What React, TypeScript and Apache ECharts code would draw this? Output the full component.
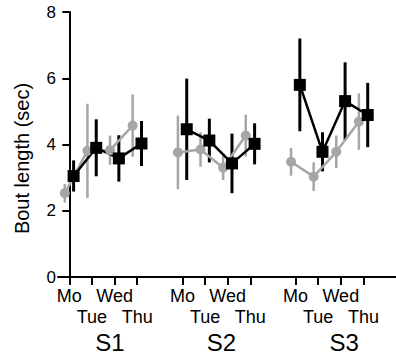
import React, { useEffect, useRef } from "react";
import * as echarts from "echarts";

const days = ["Mo", "Tue", "Wed", "Thu"];
const sessions = ["S1", "S2", "S3"];
const yTicks = [0, 2, 4, 6, 8];

// gray circles
const grayMean = [
  [2.53, 3.81, 3.83, 4.57],
  [3.76, 3.85, 3.3, 4.27],
  [3.48, 3.03, 3.78, 4.69],
];
const grayErr = [
  [0.28, 1.42, 0.44, 0.94],
  [1.11, 0.52, 0.37, 0.63],
  [0.42, 0.43, 0.49, 0.85],
];
// black squares
const blackMean = [
  [3.05, 3.9, 3.58, 4.03],
  [4.46, 4.12, 3.43, 4.02],
  [5.8, 3.78, 5.31, 4.89],
];
const blackErr = [
  [0.47, 0.86, 0.7, 0.68],
  [1.53, 0.66, 0.9, 0.62],
  [1.4, 0.59, 1.17, 0.97],
];

const GROUP_STEP = 5;
const GRAY_OFF = -0.2;
const BLACK_OFF = 0.19;
const sessionLabelPos = [1.8, 6.72, 12.15];

const FONT = "'Liberation Sans', Arial, Helvetica, sans-serif";
const GRAY = "#a6a6a6";
const BLACK = "#000000";
const X_MIN = -0.5;
const X_MAX = 14.44;

function pos(g: number, d: number) {
  return g * GROUP_STEP + d;
}

function errorSeries(mean: number[][], err: number[][], off: number, color: string, width: number) {
  const data: number[][] = [];
  mean.forEach((row, g) =>
    row.forEach((m, d) => data.push([pos(g, d) + off, m - err[g][d], m + err[g][d]]))
  );
  return {
    type: "custom",
    data,
    encode: { x: 0, y: [1, 2] },
    silent: true,
    renderItem: (params: any, api: any) => {
      const x = api.value(0);
      const p1 = api.coord([x, api.value(1)]);
      const p2 = api.coord([x, api.value(2)]);
      return {
        type: "line",
        shape: { x1: p1[0], y1: p1[1], x2: p2[0], y2: p2[1] },
        style: { stroke: color, lineWidth: width },
      };
    },
  };
}

function lineSeries(mean: number[][], off: number, color: string, symbol: string, size: number) {
  return mean.map((row, g) => ({
    type: "line",
    data: row.map((m, d) => [pos(g, d) + off, m]),
    symbol,
    symbolSize: size,
    showSymbol: true,
    lineStyle: { color, width: 2.5 },
    itemStyle: { color, opacity: 1 },
    silent: true,
  }));
}

const tickPositions: number[] = [];
const row1Positions: number[] = [];
const row2Positions: number[] = [];
sessions.forEach((_, g) =>
  days.forEach((_, d) => {
    tickPositions.push(pos(g, d));
    (d % 2 === 0 ? row1Positions : row2Positions).push(pos(g, d));
  })
);

const dayName = (v: number) => days[Math.round(v) % GROUP_STEP] ?? "";

function labelAxis(values: number[], formatter: (v: number) => string, fontSize: number, margin: number) {
  return {
    type: "value",
    position: "bottom",
    min: X_MIN,
    max: X_MAX,
    axisLine: { show: false },
    axisTick: { show: false },
    splitLine: { show: false },
    axisLabel: {
      customValues: values,
      showMinLabel: true,
      showMaxLabel: true,
      formatter,
      color: BLACK,
      fontFamily: FONT,
      fontSize,
      margin,
    },
  };
}

export default function App() {
  const ref = useRef<HTMLDivElement>(null);
  useEffect(() => {
    if (!ref.current) return;
    const chart = echarts.init(ref.current, undefined, { renderer: "svg" });
    chart.setOption({
      animation: false,
      grid: { left: 58, right: 0, top: 12, bottom: 80, containLabel: false },
      xAxis: [
        {
          type: "value",
          position: "bottom",
          min: X_MIN,
          max: X_MAX,
          axisLine: { show: true, lineStyle: { color: BLACK, width: 2 } },
          axisTick: { show: true, customValues: tickPositions, length: 8, lineStyle: { color: BLACK, width: 2 } },
          axisLabel: {
            customValues: row1Positions,
            showMinLabel: true,
            showMaxLabel: true,
            formatter: dayName,
            color: BLACK,
            fontFamily: FONT,
            fontSize: 18,
            margin: 10,
          },
          splitLine: { show: false },
        },
        labelAxis(row2Positions, dayName, 18, 31),
        labelAxis(sessionLabelPos, (v: number) => sessions[sessionLabelPos.indexOf(v)] ?? "", 24, 53),
      ],
      yAxis: {
        type: "value",
        min: 0,
        max: 8,
        interval: 2,
        axisLine: { show: true, lineStyle: { color: BLACK, width: 2 } },
        axisTick: { show: true, length: 7, lineStyle: { color: BLACK, width: 2 } },
        axisLabel: {
          customValues: yTicks,
          color: BLACK,
          fontFamily: FONT,
          fontSize: 17,
          margin: 2,
        },
        splitLine: { show: false },
        name: "Bout length (sec)",
        nameLocation: "middle",
        nameGap: 26,
        nameTextStyle: { color: BLACK, fontFamily: FONT, fontSize: 20, padding: [0, 28, 0, 0] },
      },
      series: [
        errorSeries(grayMean, grayErr, GRAY_OFF, GRAY, 2.5),
        ...lineSeries(grayMean, GRAY_OFF, GRAY, "circle", 10),
        errorSeries(blackMean, blackErr, BLACK_OFF, BLACK, 3),
        ...lineSeries(blackMean, BLACK_OFF, BLACK, "rect", 12),
      ],
    });
    return () => chart.dispose();
  }, []);
  return (
    <div
      ref={ref}
      style={{ position: "fixed", left: 0, top: 0, width: 396, height: 357, background: "#fff" }}
    />
  );
}
